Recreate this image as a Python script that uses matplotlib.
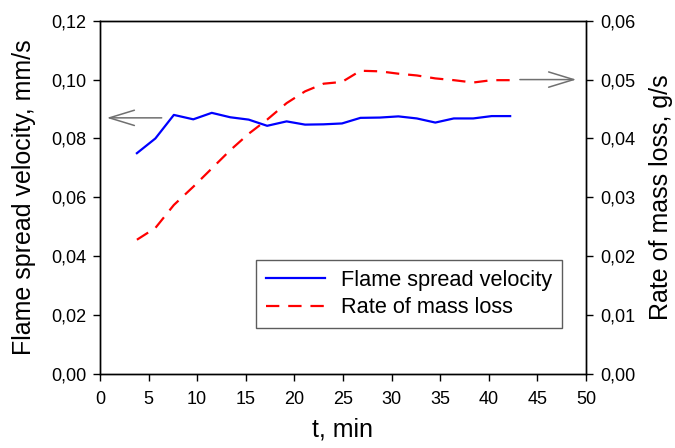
import numpy as np
import matplotlib
matplotlib.use("Agg")
import matplotlib.pyplot as plt
from matplotlib.ticker import FuncFormatter

# ---------------------------------------------------------------------------
# Data
# ---------------------------------------------------------------------------

t_min = [3.8, 5.7, 7.6, 9.6, 11.5, 13.4, 15.3, 17.2, 19.2, 21.1, 23.0,
         24.9, 26.8, 28.8, 30.7, 32.6, 34.5, 36.4, 38.4, 40.3, 42.2]

flame_velocity = [0.0750, 0.0800, 0.0880, 0.0865, 0.0887, 0.0872, 0.0864,
                  0.0843, 0.0858, 0.0847, 0.0848, 0.0851, 0.0870, 0.0871,
                  0.0875, 0.0868, 0.0854, 0.0868, 0.0868, 0.0876, 0.0876]

mass_loss_rate = [0.0228, 0.0248, 0.0287, 0.0318, 0.0349, 0.0380, 0.0408,
                  0.0432, 0.0460, 0.0480, 0.0493, 0.0496, 0.0515, 0.0514,
                  0.0510, 0.0507, 0.0502, 0.0499, 0.0495, 0.0499, 0.0499]

x_ticks  = [0, 5, 10, 15, 20, 25, 30, 35, 40, 45, 50]
yl_ticks = [0.00, 0.02, 0.04, 0.06, 0.08, 0.10, 0.12]
yr_ticks = [0.00, 0.01, 0.02, 0.03, 0.04, 0.05, 0.06]

# ---------------------------------------------------------------------------
# Plot
# ---------------------------------------------------------------------------

plt.rcParams["font.family"] = ["Liberation Sans", "DejaVu Sans"]

comma = FuncFormatter(lambda v, pos: f"{v:.2f}".replace(".", ","))

fig = plt.figure(figsize=(6.75, 4.48), dpi=100)
ax = fig.add_axes([0.1481, 0.1652, 0.720, 0.7886])
ax2 = ax.twinx()

ax.plot(t_min, flame_velocity, color="#0000ff", lw=1.6,
        label="Flame spread velocity")
ax2.plot(t_min, mass_loss_rate, color="#ff0000", lw=1.6, ls=(0, (6, 4)),
         label="Rate of mass loss")

ax.set_xlim(0, 50)
ax.set_ylim(0, 0.12)
ax2.set_ylim(0, 0.06)
ax.set_xticks(x_ticks)
ax.set_yticks(yl_ticks)
ax2.set_yticks(yr_ticks)
ax.yaxis.set_major_formatter(comma)
ax2.yaxis.set_major_formatter(comma)

for a in (ax, ax2):
    a.tick_params(direction="out", length=5, width=1, labelsize=13, pad=5)
    for s in a.spines.values():
        s.set_linewidth(1)
ax.tick_params(axis="x", pad=7)

ax.set_xlabel("t, min", fontsize=18, labelpad=7)
ax.set_ylabel("Flame spread velocity, mm/s", fontsize=18, labelpad=11)
ax2.set_ylabel("Rate of mass loss, g/s", fontsize=18, labelpad=10)

# arrows pointing to the matching axis
arrow = dict(arrowstyle="->,head_length=1.8,head_width=0.55",
             color="#707070", lw=1.1, shrinkA=0, shrinkB=0,
             mutation_scale=10)
ax.annotate("", xy=(0.7, 0.087), xytext=(6.35, 0.087), arrowprops=arrow)
ax2.annotate("", xy=(49.0, 0.050), xytext=(43.2, 0.050), arrowprops=arrow)

h1, l1 = ax.get_legend_handles_labels()
h2, l2 = ax2.get_legend_handles_labels()
leg = ax2.legend(h1 + h2, l1 + l2, loc="lower right",
                 bbox_to_anchor=(0.951, 0.13), borderaxespad=0,
                 fontsize=15.7, frameon=True,
                 fancybox=False, edgecolor="#333333", handlelength=2.7,
                 borderpad=0.45, labelspacing=0.3, handletextpad=0.75)
leg.get_frame().set_linewidth(1)

fig.savefig("out.png", dpi=100)
